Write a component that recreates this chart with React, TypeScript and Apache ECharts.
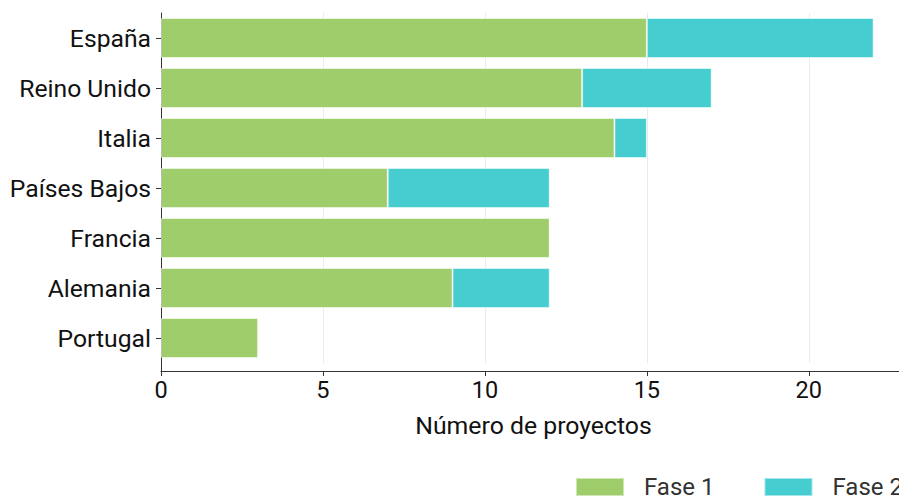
import React, { useEffect, useRef } from "react";
import * as echarts from "echarts";

const categories = ["España", "Reino Unido", "Italia", "Países Bajos", "Francia", "Alemania", "Portugal"];
const fase1 = [15, 13, 14, 7, 12, 9, 3];
const fase2 = [7, 4, 1, 5, 0, 3, 0];
const seriesNames = ["Fase 1", "Fase 2"];
const axisTitle = "Número de proyectos";

export default function App() {
  const ref = useRef<HTMLDivElement>(null);
  useEffect(() => {
    if (!ref.current) return;
    const chart = echarts.init(ref.current, undefined, { renderer: "svg" });
    const font = "Roboto, 'Noto Sans', sans-serif";
    const cats = [...categories].reverse();
    const s1 = [...fase1].reverse();
    const s2 = [...fase2].reverse();
    chart.setOption({
      animation: false,
      textStyle: { fontFamily: font },
      grid: { left: 161, top: 13, width: 745, height: 350, containLabel: false },
      legend: {
        left: 570,
        top: 470,
        itemWidth: 48,
        itemHeight: 18,
        itemGap: 49,
        icon: "rect",
        textStyle: { fontSize: 24, color: "#333", fontFamily: font, padding: [0, 0, 0, 15] },
        data: seriesNames,
      },
      graphic: [
        {
          type: "line",
          shape: { x1: 161.5, y1: 360, x2: 161.5, y2: 371 },
          style: { stroke: "#333", lineWidth: 1 },
          z: 10,
        },
      ],
      xAxis: {
        type: "value",
        min: 0,
        max: 23,
        interval: 5,
        offset: 8,
        name: axisTitle,
        nameLocation: "middle",
        nameGap: 42,
        nameTextStyle: { fontSize: 24.8, color: "#111", fontFamily: font },
        axisLine: { show: true, lineStyle: { color: "#333", width: 1 } },
        axisTick: { show: true, length: 5, lineStyle: { color: "#333" } },
        axisLabel: { fontSize: 23.5, color: "#111", margin: 7, showMaxLabel: false, fontFamily: font },
        splitLine: { show: true, lineStyle: { color: "#ebebeb", width: 1 } },
      },
      yAxis: {
        type: "category",
        data: cats,
        axisLine: { show: true, lineStyle: { color: "#333", width: 1 } },
        axisTick: { show: true, length: 5, alignWithLabel: true, lineStyle: { color: "#333" } },
        axisLabel: { fontSize: 24.7, color: "#111", margin: 10, fontFamily: font },
        splitLine: { show: false },
      },
      series: [
        {
          name: seriesNames[0],
          type: "bar",
          stack: "total",
          data: s1,
          barCategoryGap: "20%",
          itemStyle: { color: "#a0cd6b", borderColor: "rgba(255,255,255,0.5)", borderWidth: 1 },
        },
        {
          name: seriesNames[1],
          type: "bar",
          stack: "total",
          data: s2,
          barCategoryGap: "20%",
          itemStyle: { color: "#46cdcf", borderColor: "rgba(255,255,255,0.5)", borderWidth: 1 },
        },
      ],
    });
    return () => chart.dispose();
  }, []);
  return (
    <div
      ref={ref}
      style={{ position: "fixed", left: 0, top: 0, width: 1000, height: 497, background: "#fff" }}
    />
  );
}
